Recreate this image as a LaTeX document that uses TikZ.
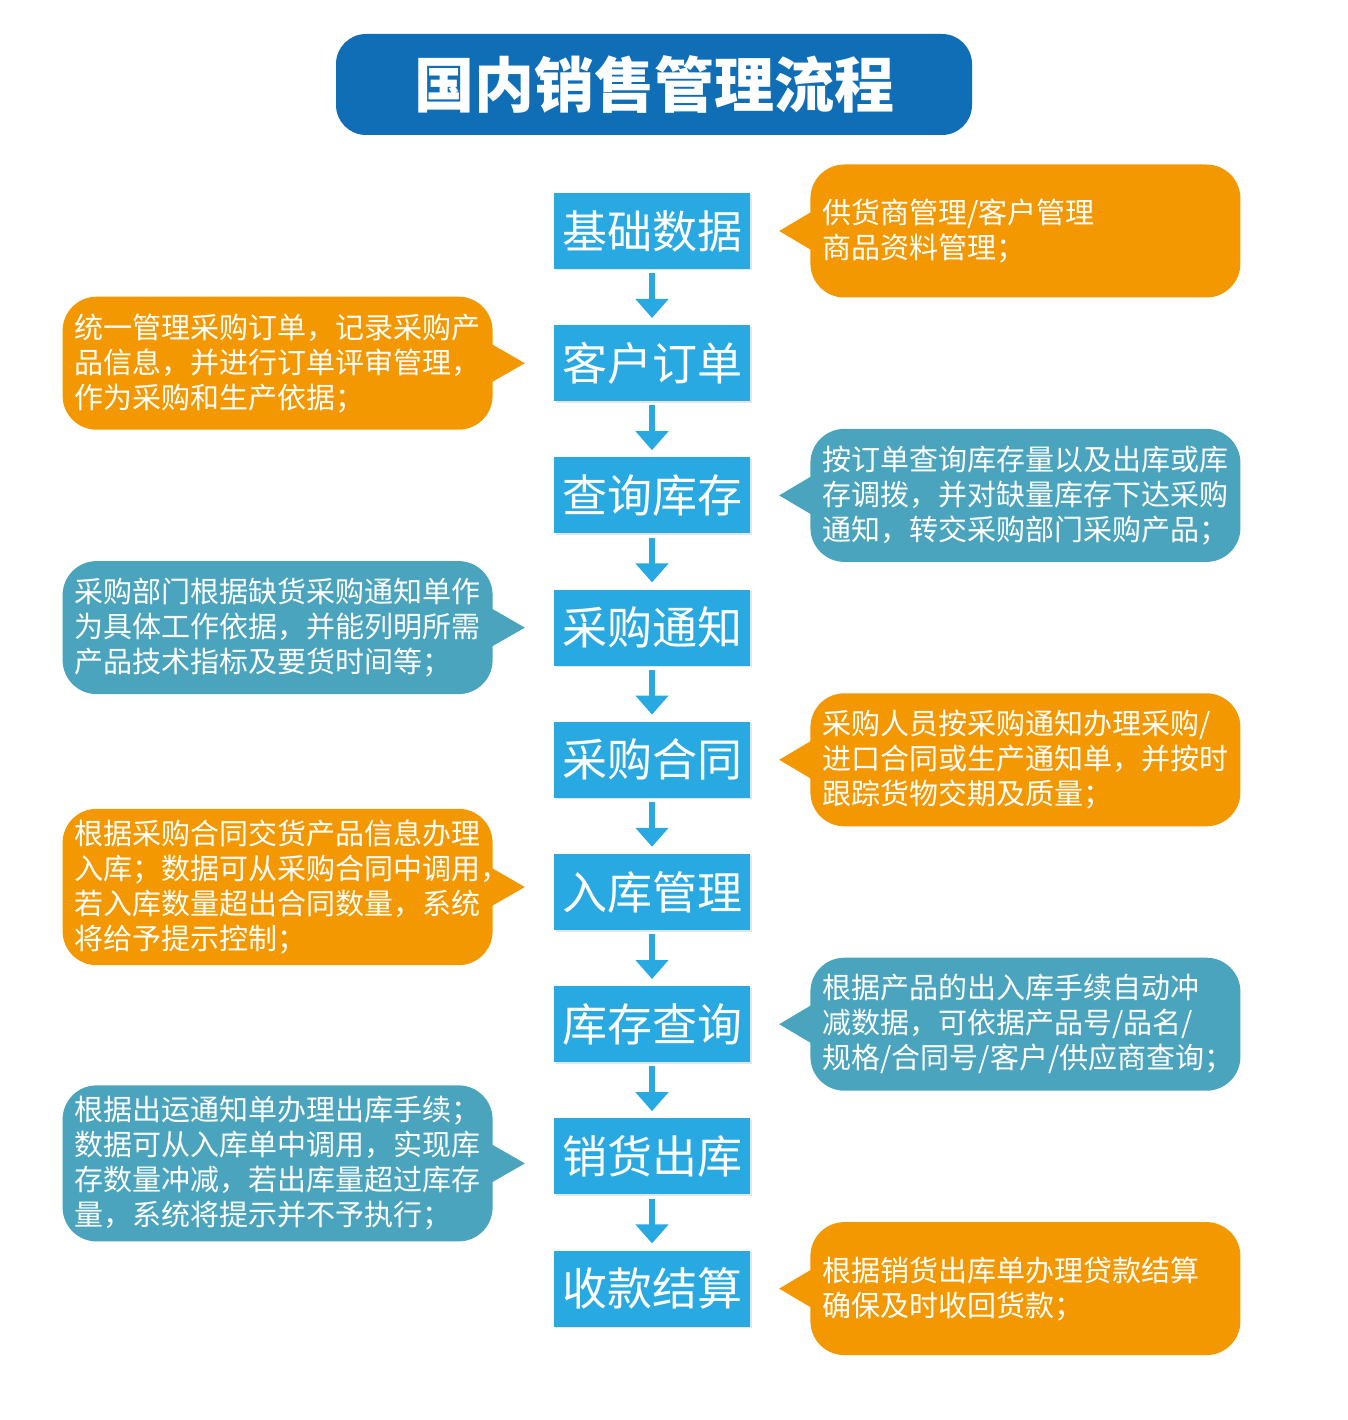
\documentclass[tikz,border=0pt]{standalone}
\usepackage{fontspec}
\setmainfont{Noto Sans CJK SC}
\usepackage{tikz}
\usetikzlibrary{positioning,arrows.meta,shadows}
\definecolor{titleblue}{HTML}{106EB7}
\definecolor{stepblue}{HTML}{29A9E1}
\definecolor{noteorange}{HTML}{F39800}
\definecolor{noteteal}{HTML}{4AA4BE}

\begin{document}
\begin{tikzpicture}
[node distance=55.8pt, font=\fontsize{29}{35}\selectfont,
% STYLES
% The title style is used for the heading banner
title/.style={rectangle, rounded corners=30pt, fill=titleblue, text=white, minimum width=636pt, minimum height=101pt, font=\fontsize{60}{60}\selectfont\bfseries},
% The stage style is used for each step of the flow
stage/.style={rectangle, fill=stepblue, text=white, minimum width=196pt, minimum height=76pt, inner sep=0pt, font=\fontsize{45}{45}\selectfont, drop shadow={shadow xshift=1.5pt, shadow yshift=-1.5pt, opacity=0.25, fill=black!40}},
% The note style is used to describe each step
note/.style={rectangle, rounded corners=34pt, text=white, text width=406pt, align=left, inner xsep=12pt, inner ysep=11pt, minimum height=133pt},
% The flow style is used for the arrows between steps
flow/.style={-{Triangle[width=32pt,length=19pt]}, line width=6pt, stepblue, shorten <=4pt, shorten >=7pt}]

\useasboundingbox (0,0) rectangle (1347pt,-1420pt);

% Draw title
\node [title] (heading) at (654pt,-84.5pt) {国内销售管理流程};

% Draw steps
\node [stage] (basic) at (652pt,-231pt) {基础数据};
\node [stage, below=of basic] (order) {客户订单};
\node [stage, below=of order] (stock) {查询库存};
\node [stage, below=of stock] (notice) {采购通知};
\node [stage, below=of notice] (contract) {采购合同};
\node [stage, below=of contract] (inbound) {入库管理};
\node [stage, below=of inbound] (query) {库存查询};
\node [stage, below=of query] (outbound) {销货出库};
\node [stage, below=of outbound] (payment) {收款结算};

%%%%%%%%%%%%%%%
% Notes

% basic
\node [note, fill=noteorange, right=60pt of basic] (note-basic) {供货商管理/客户管理\\
商品资料管理；};

% order
\node [note, fill=noteorange, left=61pt of order] (note-order) {统一管理采购订单，记录采购产\\
品信息，并进行订单评审管理，\\
作为采购和生产依据；};

% stock
\node [note, fill=noteteal, right=60pt of stock] (note-stock) {按订单查询库存量以及出库或库\\
存调拨，并对缺量库存下达采购\\
通知，转交采购部门采购产品；};

% notice
\node [note, fill=noteteal, left=61pt of notice] (note-notice) {采购部门根据缺货采购通知单作\\
为具体工作依据，并能列明所需\\
产品技术指标及要货时间等；};

% contract
\node [note, fill=noteorange, right=60pt of contract] (note-contract) {采购人员按采购通知办理采购/\\
进口合同或生产通知单，并按时\\
跟踪货物交期及质量；};

% inbound
\node [note, fill=noteorange, left=61pt of inbound, yshift=5pt] (note-inbound) {根据采购合同交货产品信息办理\\
入库；数据可从采购合同中调用，\\
若入库数量超出合同数量，系统\\
将给予提示控制；};

% query
\node [note, fill=noteteal, right=60pt of query] (note-query) {根据产品的出入库手续自动冲\\
减数据，可依据产品号/品名/\\
规格/合同号/客户/供应商查询；};

% outbound
\node [note, fill=noteteal, left=61pt of outbound, yshift=-7pt] (note-outbound) {根据出运通知单办理出库手续；\\
数据可从入库单中调用，实现库\\
存数量冲减，若出库量超过库存\\
量，系统将提示并不予执行；};

% payment
\node [note, fill=noteorange, right=60pt of payment] (note-payment) {根据销货出库单办理贷款结算\\
确保及时收回货款；};

%%%%%%%%%%%%%%%

% Pointers of the notes
\foreach \n/\c in {note-basic/noteorange, note-stock/noteteal, note-contract/noteorange, note-query/noteteal, note-payment/noteorange}
  \fill[\c] ([xshift=1pt,yshift=19pt]\n.west) -- ([xshift=-31pt]\n.west) -- ([xshift=1pt,yshift=-19pt]\n.west) -- cycle;
\foreach \n/\c in {note-order/noteorange, note-notice/noteteal, note-inbound/noteorange, note-outbound/noteteal}
  \fill[\c] ([xshift=-1pt,yshift=19pt]\n.east) -- ([xshift=32pt]\n.east) -- ([xshift=-1pt,yshift=-19pt]\n.east) -- cycle;

% Draw the links between steps
\path[flow]
(basic) edge (order)
(order) edge (stock)
(stock) edge (notice)
(notice) edge (contract)
(contract) edge (inbound)
(inbound) edge (query)
(query) edge (outbound)
(outbound) edge (payment);

\end{tikzpicture}
\end{document}
